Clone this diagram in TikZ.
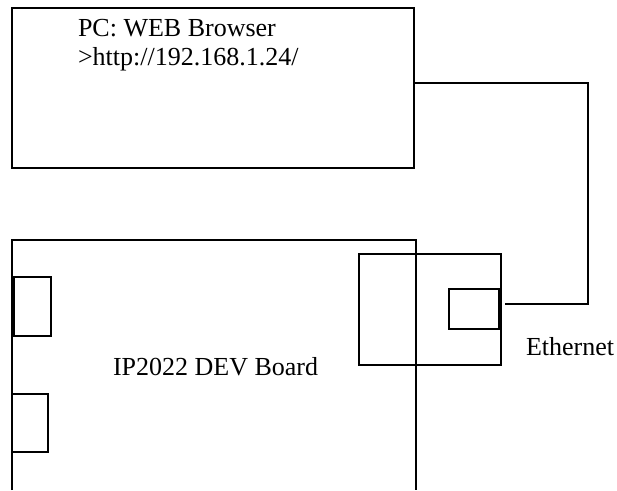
\documentclass[tikz,border=0pt]{standalone}
\usepackage{fontspec}
\setmainfont{Liberation Serif}
\begin{document}
\begin{tikzpicture}[x=1pt,y=-1pt,line width=2pt,
  box/.style={draw, rectangle, inner sep=0pt, anchor=north west, line width=2pt},
  lbl/.style={anchor=base west, inner sep=0pt, font=\fontsize{26}{30}\selectfont}]
\useasboundingbox (0,0) rectangle (617,490);
% PC box
\node[box, minimum width=402pt, minimum height=160pt] (pc) at (11,7) {};
\node[lbl] (pct) at (77,36.7) {PC: WEB Browser};
\node[lbl] (url) at (77,65) {>http://192.168.1.24/};
% board outline (open at bottom)
\coordinate (bl) at (12,490);
\coordinate (tl) at (12,240);
\coordinate (tr) at (416,240);
\coordinate (br) at (416,490);
\draw (bl) -- (tl) -- (tr) -- (br);
\node[lbl] (board) at (112,375.7) {IP2022 DEV Board};
% left connectors
\node[box, minimum width=37.3pt, minimum height=58.7pt] (lb1) at (13,276) {};
\node[box, minimum width=36.3pt, minimum height=57.7pt] (lb2) at (11,393) {};
% ethernet block
\node[box, minimum width=141.4pt, minimum height=110.4pt] (eth) at (358.3,253.3) {};
\node[box, minimum width=49.4pt, minimum height=39.4pt] (jack) at (448.3,288.3) {};
\node[lbl] (ethl) at (525,355) {Ethernet};
% cable
\coordinate (c1) at (587.5,83.3);
\coordinate (c2) at (587.5,303.7);
\draw (pc.east |- c1) -- (c1) -- (c2) -- ([xshift=5pt]jack.east |- c2);
\end{tikzpicture}
\end{document}
